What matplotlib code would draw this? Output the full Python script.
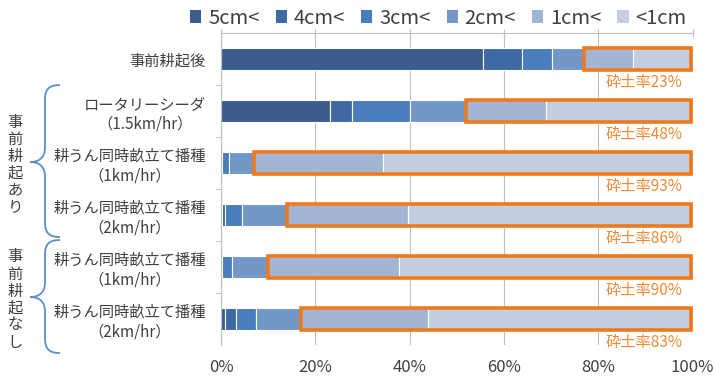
import numpy as np
import matplotlib.pyplot as plt
from matplotlib.patches import Patch, Rectangle, PathPatch
from matplotlib.path import Path

plt.rcParams['font.family'] = ['Noto Sans CJK JP', 'DejaVu Sans']

# 区分と各粒径の割合(%)
categories = ["事前耕起後",
              "ロータリーシーダ\n（1.5km/hr）",
              "耕うん同時畝立て播種\n（1km/hr）",
              "耕うん同時畝立て播種\n（2km/hr）",
              "耕うん同時畝立て播種\n（1km/hr）",
              "耕うん同時畝立て播種\n（2km/hr）"]
size_labels = ["5cm<", "4cm<", "3cm<", "2cm<", "1cm<", "<1cm"]
over5 = [55.5, 23.1, 0.0, 0.3, 0.0, 0.8]
over4 = [8.3, 4.7, 0.3, 0.5, 0.3, 2.4]
over3 = [6.5, 12.3, 1.5, 3.7, 2.0, 4.3]
over2 = [6.7, 11.9, 5.2, 9.5, 7.7, 9.5]
over1 = [10.4, 17.0, 27.4, 25.7, 27.8, 27.0]
under1 = [12.6, 31.0, 65.6, 60.3, 62.2, 56.0]
# 砕土率 = 2cm未満の割合
saido = [23, 48, 93, 86, 90, 83]

colors = ['#3A5D8C', '#3F69A1', '#4A7DBB', '#7397C7', '#A3B5D5', '#C4CEE3']
orange = '#EE7A1C'

series = [over5, over4, over3, over2, over1, under1]

fig = plt.figure(figsize=(7.14, 3.78), dpi=100)
ax = fig.add_axes([221/714, 33/378, 471.5/714, 312/378])

y = np.arange(len(categories))
left = np.zeros(len(categories))
for vals, c, lab in zip(series, colors, size_labels):
    ax.barh(y, vals, left=left, height=0.41, color=c, edgecolor='white',
            linewidth=0.8, label=lab, zorder=2)
    left += np.array(vals)

# 砕土率の枠とラベル
for i, r in enumerate(saido):
    ax.add_patch(Rectangle((100 - r, i - 0.205), r - 0.4, 0.41, fill=False,
                           edgecolor=orange, linewidth=2.6, zorder=3,
                           clip_on=False))
    ax.text(97.8, i + 0.46, f"砕土率{r}%", ha='right', va='center',
            color='#F08A34', fontsize=11, zorder=4)

ax.set_xlim(0, 100)
ax.set_ylim(5.5, -0.5)
ax.set_xticks(range(0, 101, 20))
ax.set_xticklabels([f"{v}%" for v in range(0, 101, 20)])
ax.xaxis.grid(True, color='#BFBFBF', linewidth=0.8)
ax.set_axisbelow(True)
for s in ['right', 'bottom']:
    ax.spines[s].set_visible(False)
for s in ['top', 'left']:
    ax.spines[s].set_color('#BFBFBF')
    ax.spines[s].set_linewidth(0.8)
ax.tick_params(axis='x', top=True, bottom=False, labelbottom=True,
               direction='inout', length=6, color='#BFBFBF',
               labelsize=12, labelcolor='#404040', pad=7)
ax.set_yticks(y)
ax.set_yticklabels(categories, fontsize=11, color='#404040')
for t in ax.get_yticklabels():
    t.set_multialignment('center')
ax.tick_params(axis='y', length=0, pad=11)
ax.set_yticks(np.arange(0.5, 5, 1), minor=True)
ax.tick_params(axis='y', which='minor', length=4, color='#BFBFBF')

handles = [Patch(facecolor=c, label=l) for c, l in zip(colors, size_labels)]
fig.legend(handles=handles, ncol=6, loc='center', bbox_to_anchor=(0.614, 0.952),
           frameon=False, fontsize=14.5, handlelength=0.55, handleheight=0.55,
           handletextpad=0.35, columnspacing=0.8, labelcolor='#404040')

# 左側の括弧と縦書きラベル
ov = fig.add_axes([0, 0, 1, 1])
ov.set_xlim(0, 714)
ov.set_ylim(378, 0)
ov.axis('off')


def brace(y0, y1, ym, xt=30, xm=45, xe=60):
    verts = [(xe, y0), (xm + 3, y0), (xm, y0 + 5), (xm, y0 + 15),
             (xm, ym - 15),
             (xm, ym - 5), (xt + 10, ym), (xt, ym),
             (xt + 10, ym), (xm, ym + 5), (xm, ym + 15),
             (xm, y1 - 15),
             (xm, y1 - 5), (xm + 3, y1), (xe, y1)]
    codes = [Path.MOVETO, Path.CURVE4, Path.CURVE4, Path.CURVE4,
             Path.LINETO,
             Path.CURVE4, Path.CURVE4, Path.CURVE4,
             Path.CURVE4, Path.CURVE4, Path.CURVE4,
             Path.LINETO,
             Path.CURVE4, Path.CURVE4, Path.CURVE4]
    ov.add_patch(PathPatch(Path(verts, codes), fill=False,
                           edgecolor='#5B8FCC', linewidth=1.3))


brace(85, 237, 162)
brace(240, 353, 297)

for text, y0 in [("事前耕起あり", 122), ("事前耕起なし", 257)]:
    for k, ch in enumerate(text):
        ov.text(15, y0 + 17 * k, ch, ha='center', va='center',
                fontsize=11, color='#404040')

fig.savefig("out.png", dpi=100)
